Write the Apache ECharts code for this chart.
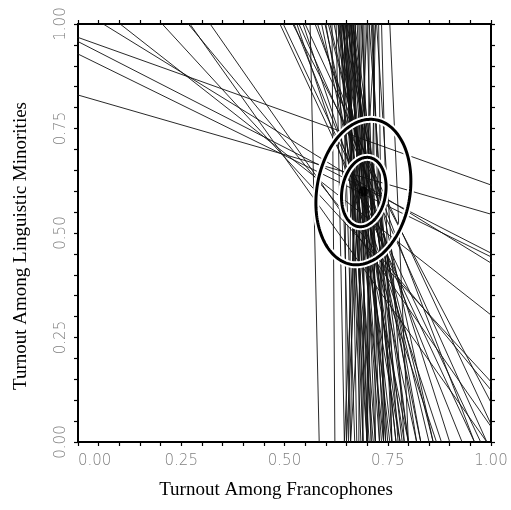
<!DOCTYPE html>
<html>
<head>
<meta charset="utf-8">
<script src="https://cdn.jsdelivr.net/npm/echarts@6/dist/echarts.min.js"></script>
<style>
html,body{margin:0;padding:0;background:#fff;}
#chart{width:511px;height:510px;}
</style>
</head>
<body>
<div id="chart"></div>
<script>
// Tomography lines: x where each line crosses y = 1 (top) and y = 0 (bottom)
const lineTopX = [
  -0.091, -0.083, -0.148, -0.596, 0.061, 0.102, 0.204, 0.267, 0.271, 0.320,
  0.489, 0.497, 0.523, 0.530, 0.535, 0.545, 0.562, 0.574, 0.580, 0.598, 0.606, 0.520, 0.550,
  0.615, 0.625, 0.630, 0.632, 0.635, 0.638, 0.640, 0.642, 0.645, 0.647, 0.650, 0.652, 0.655,
  0.657, 0.660, 0.662, 0.664, 0.666, 0.668, 0.672, 0.676, 0.680, 0.683, 0.686, 0.690, 0.695,
  0.700, 0.705, 0.710, 0.715, 0.720, 0.723, 0.728, 0.735, 0.755, 0.600, 0.610, 0.620, 0.590,
  0.640, 0.650, 0.660, 0.670, 0.630, 0.700, 0.720, 0.690, 0.643, 0.658, 0.665, 0.648,
  0.634, 0.639, 0.651, 0.661, 0.667, 0.705, 0.713
];
const lineBottomX = [
  2.742, 1.893, 1.913, 2.912, 1.703, 1.392, 1.134, 1.104, 0.990, 1.026,
  0.960, 0.975, 0.930, 0.868, 0.990, 0.880, 0.584, 0.960, 0.900, 0.820, 0.860, 1.050, 1.020,
  0.622, 0.645, 0.660, 0.700, 0.740, 0.670, 0.780, 0.720, 0.650, 0.760, 0.690, 0.800, 0.730,
  0.675, 0.710, 0.770, 0.655, 0.750, 0.690, 0.660, 0.720, 0.700, 0.680, 0.740, 0.710, 0.690,
  0.730, 0.700, 0.760, 0.720, 0.700, 0.790, 0.740, 0.760, 0.800, 0.780, 0.850, 0.830, 0.800,
  0.860, 0.830, 0.820, 0.800, 0.790, 0.650, 0.660, 0.645, 0.705, 0.735, 0.770, 0.685,
  0.715, 0.755, 0.700, 0.745, 0.785, 0.775, 0.745
];
// Contour ellipses (outer, inner)
const contourCenterX = [0.691, 0.692];
const contourCenterY = [0.598, 0.598];
const contourHalfWidth = [0.115, 0.054];
const contourHalfHeight = [0.174, 0.083];
const contourRho = [0.15, 0.15];
// Mean point
const meanPoint = [0.691, 0.599];
// Ticks
const tickStep = 0.05;
const labelStep = 0.25;

const lineData = lineTopX.map((t, i) => ({ coords: [[t, 1], [lineBottomX[i], 0]] }));
const contourData = contourCenterX.map((cx, i) => [cx, contourCenterY[i], i]);

const chart = echarts.init(document.getElementById('chart'), null, { renderer: 'canvas' });

function fmt(v) {
  const k = v / labelStep;
  return Math.abs(k - Math.round(k)) < 1e-6 ? v.toFixed(2) : '';
}
const labelStyle = {
  color: '#808080',
  fontFamily: 'DejaVu Sans',
  fontWeight: 200,
  fontSize: 15
};
const axisLineStyle = { show: true, onZero: false, lineStyle: { color: '#000', width: 2 } };
const tickStyle = { show: true, inside: false, length: 4, lineStyle: { color: '#000', width: 1.2 } };

const option = {
  backgroundColor: '#fff',
  animation: false,
  grid: { left: 78, top: 24, width: 413, height: 418, containLabel: false },
  xAxis: [
    {
      type: 'value', min: 0, max: 1, interval: tickStep, position: 'bottom',
      axisLine: axisLineStyle, axisTick: tickStyle, splitLine: { show: false },
      axisLabel: Object.assign({ margin: 12, formatter: fmt, alignMinLabel: 'left' }, labelStyle)
    },
    {
      type: 'value', min: 0, max: 1, interval: tickStep, position: 'top',
      axisLine: axisLineStyle, axisTick: tickStyle, splitLine: { show: false },
      axisLabel: { show: false }
    }
  ],
  yAxis: [
    {
      type: 'value', min: 0, max: 1, interval: tickStep, position: 'left',
      axisLine: axisLineStyle, axisTick: tickStyle, splitLine: { show: false },
      axisLabel: Object.assign({ margin: 9, rotate: 90, formatter: fmt }, labelStyle)
    },
    {
      type: 'value', min: 0, max: 1, interval: tickStep, position: 'right',
      axisLine: axisLineStyle, axisTick: tickStyle, splitLine: { show: false },
      axisLabel: { show: false }
    }
  ],
  series: [
    {
      type: 'lines',
      coordinateSystem: 'cartesian2d',
      xAxisIndex: 0, yAxisIndex: 0,
      clip: true,
      silent: true,
      z: 2,
      lineStyle: { color: '#111', width: 0.9, opacity: 1 },
      data: lineData
    },
    {
      type: 'custom',
      coordinateSystem: 'cartesian2d',
      xAxisIndex: 0, yAxisIndex: 0,
      z: 5,
      clip: true,
      silent: true,
      encode: { x: 0, y: 1 },
      data: contourData,
      renderItem: function (params, api) {
        const i = api.value(2);
        const cx = api.value(0), cy = api.value(1);
        const hw = contourHalfWidth[i], hh = contourHalfHeight[i], r = contourRho[i];
        const s = Math.sqrt(1 - r * r);
        const pts = [];
        for (let k = 0; k < 180; k++) {
          const t = (k / 180) * Math.PI * 2;
          const x = cx + hw * Math.cos(t);
          const y = cy + hh * (r * Math.cos(t) + s * Math.sin(t));
          pts.push(api.coord([x, y]));
        }
        return {
          type: 'group',
          children: [
            { type: 'polygon', shape: { points: pts }, style: { fill: 'none', stroke: '#fff', lineWidth: 7 } },
            { type: 'polygon', shape: { points: pts }, style: { fill: 'none', stroke: '#000', lineWidth: 3 } }
          ]
        };
      }
    },
    {
      type: 'scatter',
      xAxisIndex: 0, yAxisIndex: 0,
      z: 6,
      symbol: 'circle',
      symbolSize: 10,
      itemStyle: { color: '#000' },
      data: [meanPoint]
    }
  ],
  graphic: [
    {
      type: 'text', x: 276, y: 490,
      style: {
        text: 'Turnout Among Francophones',
        fill: '#000', font: '19px "Liberation Serif", "Times New Roman", serif',
        textAlign: 'center', textVerticalAlign: 'middle'
      }
    },
    {
      type: 'text', x: 21, y: 246, rotation: Math.PI / 2,
      style: {
        text: 'Turnout Among Linguistic Minorities',
        fill: '#000', font: '19px "Liberation Serif", "Times New Roman", serif',
        textAlign: 'center', textVerticalAlign: 'middle'
      }
    }
  ]
};
chart.setOption(option);
</script>
</body>
</html>
